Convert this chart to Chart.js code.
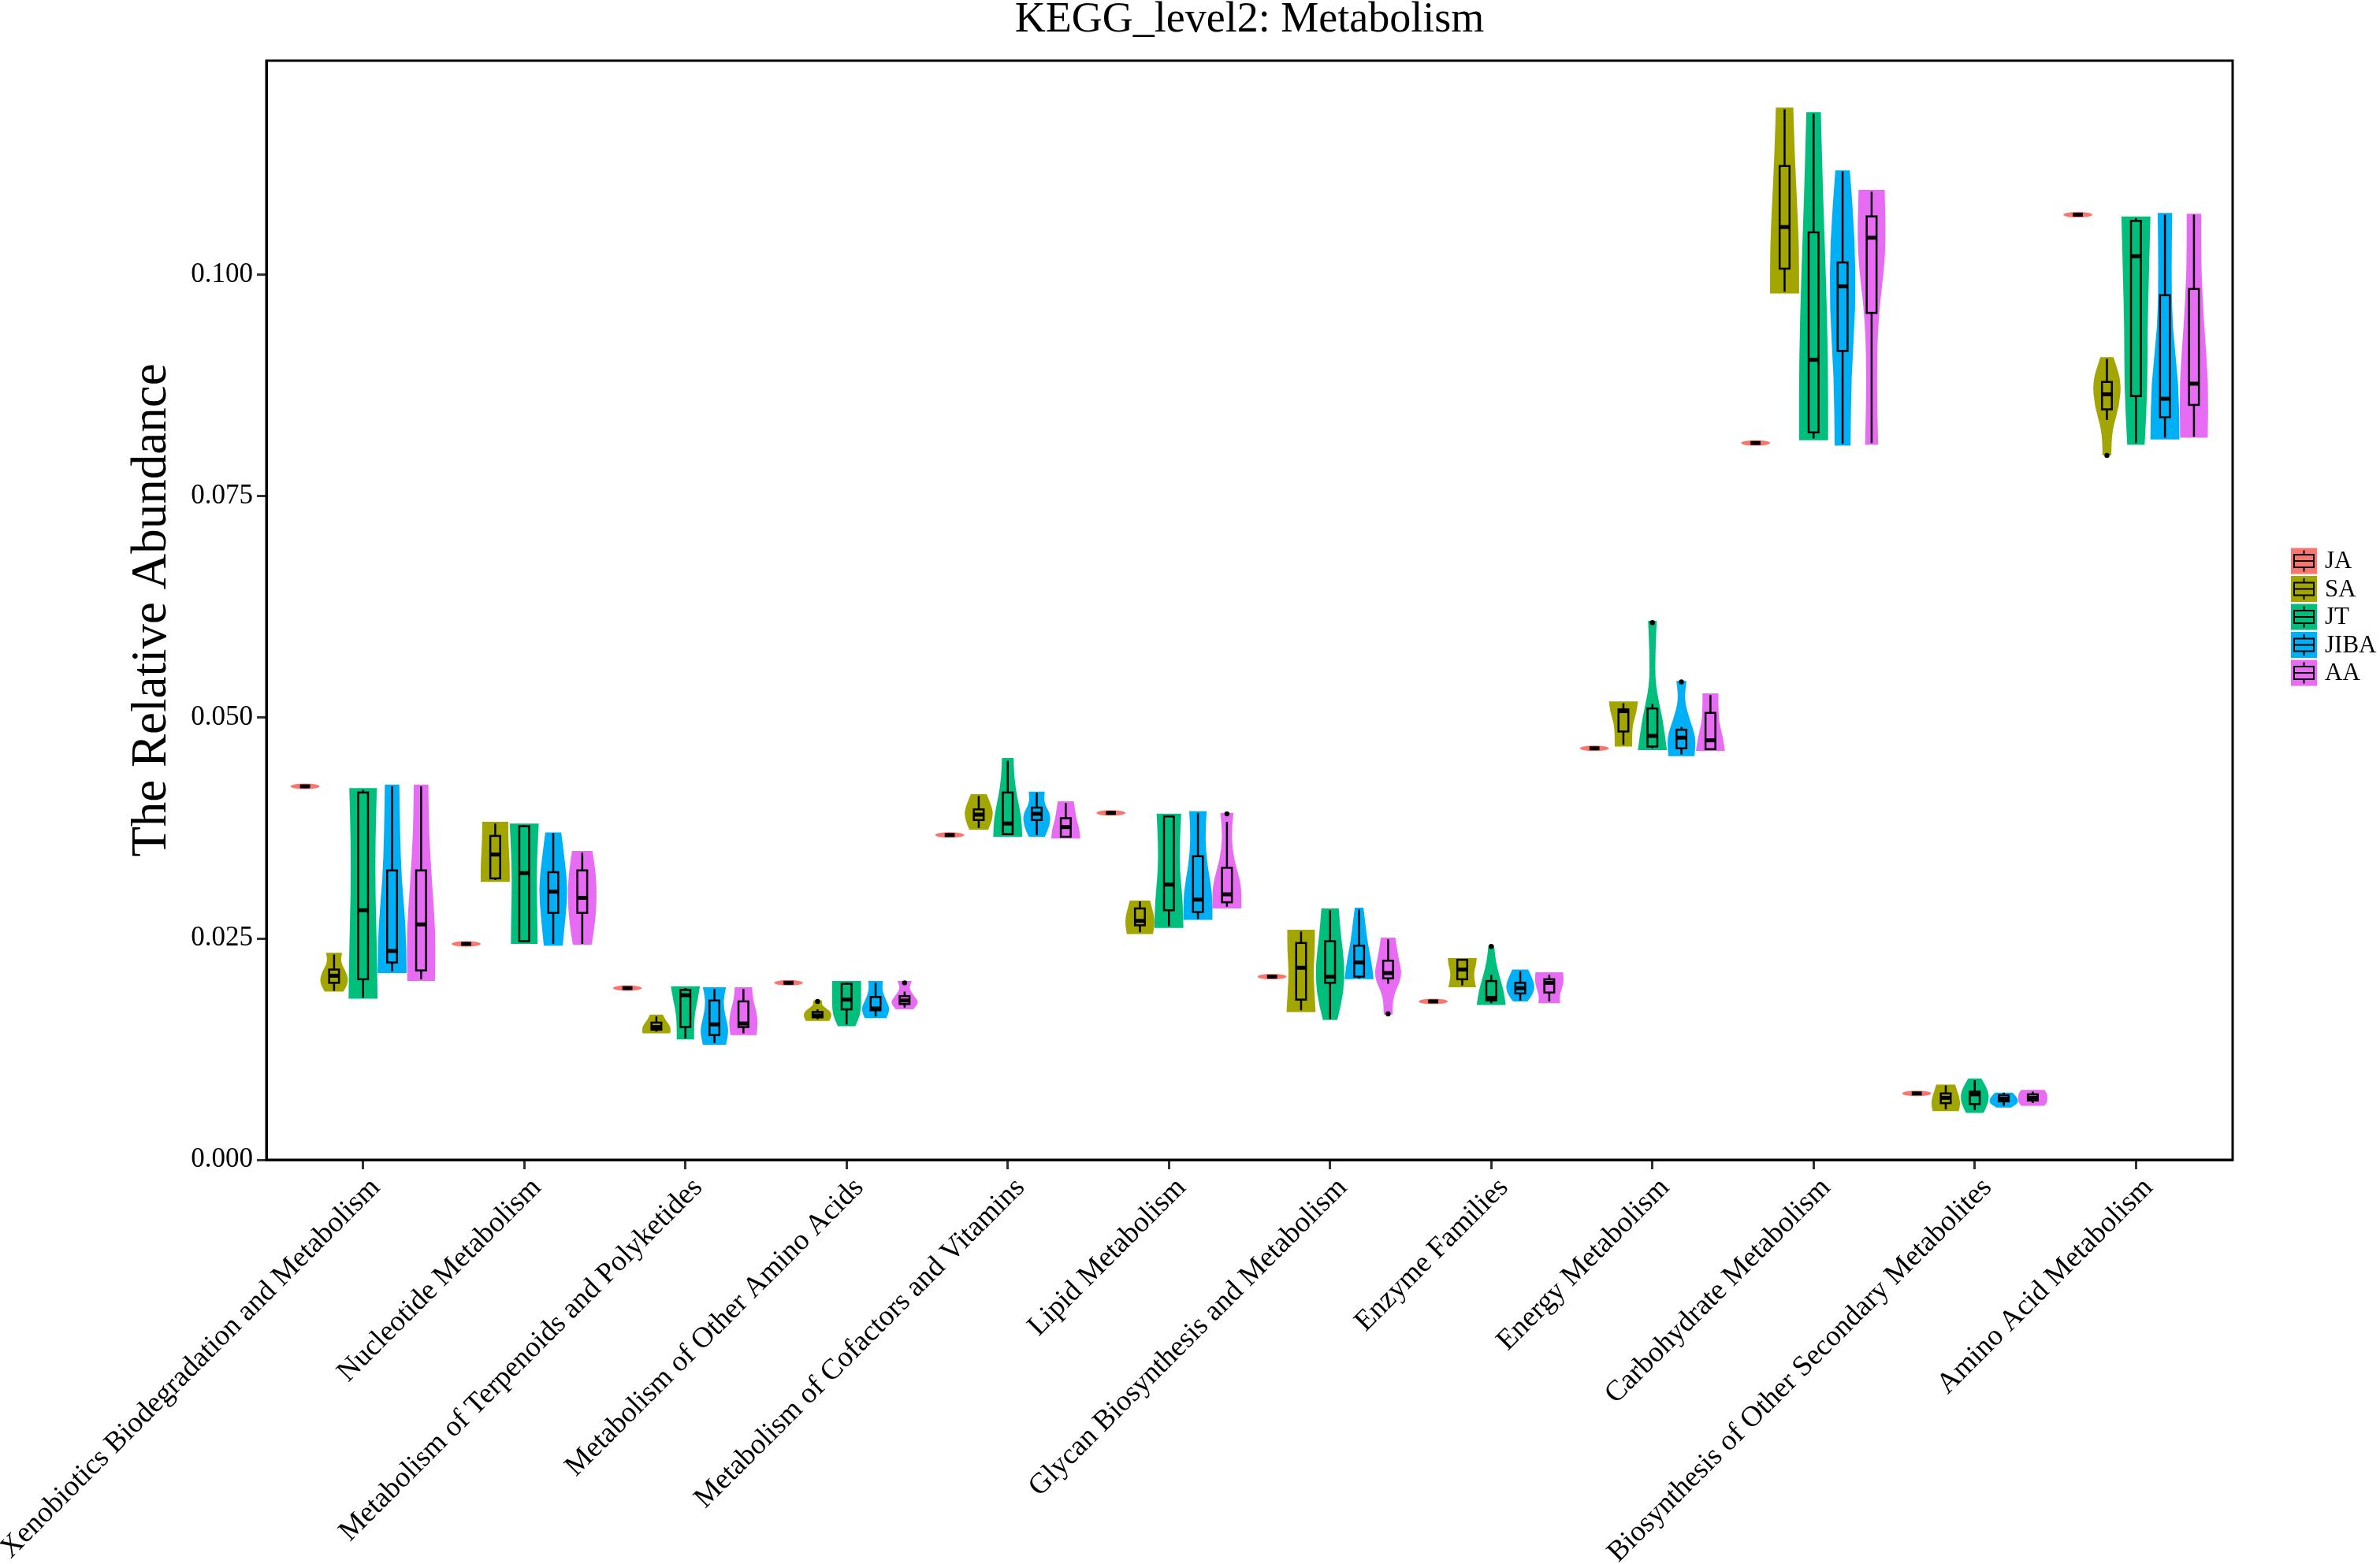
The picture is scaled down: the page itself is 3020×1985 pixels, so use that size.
<!DOCTYPE html>
<html>
<head>
<meta charset="utf-8">
<title>KEGG_level2: Metabolism</title>
<script src="https://cdn.jsdelivr.net/npm/chart.js@4.4.1/dist/chart.umd.min.js"></script>
<style>
  html, body { margin: 0; padding: 0; background: #fff; }
  #chart { display: block; }
</style>
</head>
<body>
<canvas id="chart" width="3020" height="1985"></canvas>
<script>
var categories = [
	'Xenobiotics Biodegradation and Metabolism',
	'Nucleotide Metabolism',
	'Metabolism of Terpenoids and Polyketides',
	'Metabolism of Other Amino Acids',
	'Metabolism of Cofactors and Vitamins',
	'Lipid Metabolism',
	'Glycan Biosynthesis and Metabolism',
	'Enzyme Families',
	'Energy Metabolism',
	'Carbohydrate Metabolism',
	'Biosynthesis of Other Secondary Metabolites',
	'Amino Acid Metabolism'
];
var groups = ['JA', 'SA', 'JT', 'JIBA', 'AA'];
var groupColors = ['#F8766D', '#A3A500', '#00BF7D', '#00B0F6', '#E76BF3'];
var yTicks = [0, 0.025, 0.05, 0.075, 0.1];

// JA: every sample has the same value
var jaValue = [0.0422, 0.0244, 0.0194, 0.0200, 0.0367, 0.0392, 0.0207, 0.0179, 0.0465, 0.0810, 0.0075, 0.1068];

// violin extent [min, max], box [lower whisker, q1, median, q3, upper whisker],
// shape = relative density from bottom to top of the violin
var saRange = [[0.0190,0.0234],[0.0314,0.0382],[0.0143,0.0164],[0.0157,0.0180],[0.0373,0.0413],[0.0255,0.0293],[0.0167,0.0260],[0.0195,0.0228],[0.0467,0.0518],[0.0979,0.1189],[0.0055,0.0085],[0.0796,0.0907]];
var saBox = [[0.0191,0.0200,0.0208,0.0215,0.0232],[0.0316,0.0318,0.0345,0.0366,0.0380],[0.0145,0.0147,0.0150,0.0155,0.0162],[0.0159,0.0161,0.0163,0.0167,0.0170],[0.0375,0.0384,0.0390,0.0396,0.0411],[0.0257,0.0265,0.0270,0.0284,0.0292],[0.0169,0.0181,0.0217,0.0245,0.0258],[0.0197,0.0204,0.0215,0.0226,0.0227],[0.0469,0.0484,0.0507,0.0509,0.0516],[0.0981,0.1007,0.1054,0.1123,0.1187],[0.0057,0.0064,0.0070,0.0075,0.0084],[0.0836,0.0848,0.0865,0.0879,0.0905]];
var saShape = [[0.65,1.0,0.85,0.45,0.55],[1.0,1.0,0.95,0.9,0.9],[0.95,1.0,0.85,0.6,0.45],[0.8,1.0,0.85,0.3,0.3],[0.65,0.9,1.0,0.8,0.55],[0.9,1.0,1.0,0.85,0.7],[1.0,0.92,0.85,0.95,0.95],[0.95,0.85,0.8,0.95,1.0],[0.6,0.6,0.65,0.9,1.0],[1.0,1.0,0.85,0.7,0.6],[0.9,1.0,0.95,0.8,0.65],[0.3,0.35,0.85,1.0,0.45]];

var jtRange = [[0.0182,0.0420],[0.0244,0.0380],[0.0136,0.0196],[0.0151,0.0202],[0.0365,0.0454],[0.0262,0.0391],[0.0158,0.0284],[0.0175,0.0242],[0.0463,0.0609],[0.0813,0.1184],[0.0053,0.0092],[0.0808,0.1066]];
var jtBox = [[0.0183,0.0204,0.0282,0.0415,0.0418],[0.0246,0.0247,0.0324,0.0377,0.0378],[0.0137,0.0150,0.0186,0.0192,0.0194],[0.0153,0.0170,0.0181,0.0199,0.0200],[0.0367,0.0368,0.0380,0.0415,0.0451],[0.0264,0.0282,0.0311,0.0388,0.0389],[0.0159,0.0200,0.0207,0.0247,0.0282],[0.0177,0.0180,0.0183,0.0202,0.0209],[0.0465,0.0467,0.0479,0.0510,0.0515],[0.0815,0.0822,0.0904,0.1048,0.1182],[0.0056,0.0063,0.0074,0.0077,0.0090],[0.0810,0.0863,0.1021,0.1061,0.1064]];
var jtShape = [[1.0,0.95,0.85,0.85,0.95],[0.92,0.9,0.85,0.9,1.0],[0.6,0.6,0.65,0.85,1.0],[0.6,0.95,1.0,1.0,1.0],[1.0,0.95,0.65,0.45,0.4],[1.0,0.95,0.75,0.75,0.85],[0.5,0.95,1.0,0.75,0.6],[1.0,0.85,0.55,0.3,0.2],[1.0,0.7,0.2,0.2,0.3],[1.0,1.0,0.85,0.65,0.5],[0.6,0.9,1.0,0.8,0.45],[0.6,0.8,0.8,0.9,1.0]];

var jibaRange = [[0.0211,0.0424],[0.0242,0.0370],[0.0130,0.0195],[0.0160,0.0202],[0.0365,0.0416],[0.0271,0.0394],[0.0204,0.0285],[0.0179,0.0215],[0.0456,0.0541],[0.0807,0.1118],[0.0059,0.0076],[0.0814,0.1070]];
var jibaBox = [[0.0213,0.0223,0.0236,0.0327,0.0422],[0.0244,0.0279,0.0303,0.0325,0.0369],[0.0132,0.0141,0.0153,0.0180,0.0193],[0.0162,0.0169,0.0171,0.0184,0.0200],[0.0367,0.0384,0.0391,0.0398,0.0415],[0.0272,0.0280,0.0294,0.0343,0.0392],[0.0205,0.0207,0.0223,0.0242,0.0283],[0.0180,0.0188,0.0194,0.0200,0.0213],[0.0458,0.0465,0.0477,0.0486,0.0489],[0.0809,0.0914,0.0987,0.1014,0.1117],[0.0061,0.0066,0.0069,0.0073,0.0076],[0.0816,0.0839,0.0860,0.0977,0.1068]];
var jibaShape = [[1.0,0.95,0.65,0.55,0.5],[0.65,0.85,1.0,0.8,0.55],[0.8,1.0,0.75,0.6,0.8],[0.75,1.0,0.7,0.45,0.5],[0.55,0.9,0.95,0.5,0.55],[1.0,1.0,0.65,0.5,0.6],[1.0,0.85,0.6,0.45,0.3],[0.5,0.9,1.0,0.8,0.55],[0.9,1.0,0.55,0.2,0.35],[0.55,0.6,0.9,0.85,0.5],[0.5,0.95,1.0,0.85,0.6],[1.0,0.95,0.5,0.45,0.5]];

var aaRange = [[0.0202,0.0424],[0.0243,0.0349],[0.0141,0.0195],[0.0170,0.0202],[0.0363,0.0405],[0.0284,0.0392],[0.0164,0.0251],[0.0177,0.0212],[0.0462,0.0527],[0.0808,0.1096],[0.0061,0.0079],[0.0816,0.1069]];
var aaBox = [[0.0204,0.0214,0.0266,0.0327,0.0422],[0.0244,0.0279,0.0296,0.0327,0.0347],[0.0143,0.0150,0.0154,0.0179,0.0193],[0.0172,0.0176,0.0180,0.0185,0.0190],[0.0365,0.0365,0.0376,0.0386,0.0403],[0.0286,0.0291,0.0300,0.0330,0.0382],[0.0199,0.0205,0.0211,0.0225,0.0249],[0.0179,0.0189,0.0200,0.0204,0.0209],[0.0463,0.0464,0.0474,0.0505,0.0525],[0.0810,0.0957,0.1042,0.1066,0.1094],[0.0064,0.0067,0.0070,0.0074,0.0077],[0.0817,0.0853,0.0877,0.0984,0.1068]];
var aaShape = [[0.95,1.0,0.75,0.55,0.5],[0.65,0.9,1.0,0.95,0.7],[0.9,1.0,0.9,0.65,0.6],[0.6,1.0,0.6,0.3,0.5],[1.0,0.95,0.75,0.65,0.55],[1.0,1.0,0.5,0.3,0.45],[0.3,0.35,1.0,0.7,0.5],[0.75,0.7,0.9,1.0,0.95],[1.0,0.85,0.6,0.55,0.55],[0.45,0.35,0.45,1.0,0.9],[0.8,1.0,1.0,1.0,0.8],[0.95,1.0,0.7,0.5,0.5]];

// outliers: [category index, group index, value]
var outliers = [[3,1,0.0179],[3,4,0.0200],[5,4,0.0391],[6,4,0.0165],[7,2,0.0241],[8,2,0.0607],[8,3,0.0540],[11,1,0.0796]];

var dodge = 0.18; // width of one group slot, in category units

var violinTable = [
	null,
	[saRange, saBox, saShape],
	[jtRange, jtBox, jtShape],
	[jibaRange, jibaBox, jibaShape],
	[aaRange, aaBox, aaShape]
];

function groupX(ci, gi) {
	return ci + 1 + (gi - 2) * dodge;
}

var outlierPoints = outliers.map(function (o) {
	return { x: groupX(o[0], o[1]), y: o[2] };
});

function violinPath(ctx, cx, half, yb, yt, shape) {
	var n = shape.length;
	var p = shape.map(function (d, i) {
		return [half * d, yb + (yt - yb) * i / (n - 1)];
	});
	function mid(a, b) { return [(p[a][0] + p[b][0]) / 2, (p[a][1] + p[b][1]) / 2]; }
	ctx.beginPath();
	ctx.moveTo(cx + p[0][0], p[0][1]);
	var m = mid(0, 1);
	ctx.lineTo(cx + m[0], m[1]);
	for (var i = 1; i < n - 1; i++) {
		m = mid(i, i + 1);
		ctx.quadraticCurveTo(cx + p[i][0], p[i][1], cx + m[0], m[1]);
	}
	ctx.lineTo(cx + p[n - 1][0], p[n - 1][1]);
	ctx.lineTo(cx - p[n - 1][0], p[n - 1][1]);
	m = mid(n - 2, n - 1);
	ctx.lineTo(cx - m[0], m[1]);
	for (var j = n - 2; j > 0; j--) {
		m = mid(j - 1, j);
		ctx.quadraticCurveTo(cx - p[j][0], p[j][1], cx - m[0], m[1]);
	}
	ctx.lineTo(cx - p[0][0], p[0][1]);
	ctx.closePath();
}

function drawBox(ctx, cx, bw, ys, box) {
	var lo = ys.getPixelForValue(box[0]);
	var q1 = ys.getPixelForValue(box[1]);
	var md = ys.getPixelForValue(box[2]);
	var q3 = ys.getPixelForValue(box[3]);
	var hi = ys.getPixelForValue(box[4]);
	ctx.strokeStyle = '#000';
	ctx.lineWidth = 2.5;
	ctx.beginPath();
	ctx.moveTo(cx, hi); ctx.lineTo(cx, q3);
	ctx.moveTo(cx, q1); ctx.lineTo(cx, lo);
	ctx.stroke();
	ctx.strokeRect(cx - bw, q3, 2 * bw, q1 - q3);
	ctx.lineWidth = 5;
	ctx.beginPath();
	ctx.moveTo(cx - bw, md); ctx.lineTo(cx + bw, md);
	ctx.stroke();
}

var violinPlugin = {
	id: 'violins',
	beforeDatasetsDraw: function (chart) {
		var ctx = chart.ctx, xs = chart.scales.x, ys = chart.scales.y, a = chart.chartArea;
		var half = (xs.getPixelForValue(1 + dodge) - xs.getPixelForValue(1)) / 2;
		var bw = half * 0.34;
		ctx.save();
		ctx.beginPath();
		ctx.rect(a.left, a.top, a.right - a.left, a.bottom - a.top);
		ctx.clip();
		categories.forEach(function (c, ci) {
			// JA: flat violin
			var cx = xs.getPixelForValue(groupX(ci, 0));
			var y = ys.getPixelForValue(jaValue[ci]);
			ctx.fillStyle = groupColors[0];
			ctx.beginPath();
			ctx.ellipse(cx, y, half, 3.5, 0, 0, Math.PI * 2);
			ctx.fill();
			var v = jaValue[ci];
			drawBox(ctx, cx, bw, ys, [v, v, v, v, v]);

			for (var gi = 1; gi < groups.length; gi++) {
				var t = violinTable[gi];
				var range = t[0][ci], box = t[1][ci], shape = t[2][ci];
				cx = xs.getPixelForValue(groupX(ci, gi));
				ctx.fillStyle = groupColors[gi];
				violinPath(ctx, cx, half, ys.getPixelForValue(range[0]), ys.getPixelForValue(range[1]), shape);
				ctx.fill();
				drawBox(ctx, cx, bw, ys, box);
			}
		});
		ctx.restore();
	},
	afterDraw: function (chart) {
		var ctx = chart.ctx, a = chart.chartArea;
		ctx.save();
		// panel frame
		ctx.strokeStyle = '#000';
		ctx.lineWidth = 3;
		ctx.strokeRect(a.left, a.top, a.right - a.left, a.bottom - a.top);

		// title
		ctx.fillStyle = '#000';
		ctx.font = '54px "Liberation Serif"';
		ctx.textAlign = 'center';
		ctx.textBaseline = 'middle';
		ctx.fillText('KEGG_level2: Metabolism', (a.left + a.right) / 2, 26);

		// legend
		var kx = a.right + 74, ky = 712, step = 35.5, ks = 33;
		ctx.font = '31px "Liberation Serif"';
		ctx.textAlign = 'left';
		groups.forEach(function (g, gi) {
			var cy = ky + gi * step;
			ctx.fillStyle = groupColors[gi];
			ctx.fillRect(kx, cy - ks / 2, ks, ks);
			ctx.strokeStyle = '#000';
			ctx.lineWidth = 2;
			ctx.beginPath();
			ctx.moveTo(kx + ks / 2, cy - ks / 2 + 3); ctx.lineTo(kx + ks / 2, cy - 8);
			ctx.moveTo(kx + ks / 2, cy + 8); ctx.lineTo(kx + ks / 2, cy + ks / 2 - 3);
			ctx.stroke();
			ctx.strokeRect(kx + 4, cy - 8, ks - 8, 16);
			ctx.beginPath();
			ctx.moveTo(kx + 4, cy); ctx.lineTo(kx + ks - 4, cy);
			ctx.stroke();
			ctx.fillStyle = '#000';
			ctx.fillText(g, kx + ks + 10, cy + 1);
		});
		ctx.restore();
	}
};

var axisGrid = { drawOnChartArea: false, drawTicks: true, tickLength: 12, tickWidth: 3, tickColor: '#333' };
var axisBorder = { display: true, color: '#000', width: 3 };

var chart = new Chart(document.getElementById('chart'), {
	type: 'scatter',
	data: {
		datasets: [{
			label: 'outliers',
			data: outlierPoints,
			pointRadius: 3.2,
			pointBackgroundColor: '#000',
			pointBorderWidth: 0
		}]
	},
	options: {
		responsive: false,
		animation: false,
		devicePixelRatio: 1,
		layout: { padding: { top: 77, right: 187, bottom: 0, left: 0 } },
		plugins: {
			legend: { display: false },
			tooltip: { enabled: false },
			title: { display: false }
		},
		scales: {
			x: {
				type: 'linear',
				min: 0.4,
				max: 12.6,
				afterBuildTicks: function (s) {
					s.ticks = categories.map(function (c, i) { return { value: i + 1 }; });
				},
				afterFit: function (s) {
					s.height = 513;
					s.paddingLeft = 0;
					s.paddingRight = 0;
				},
				ticks: {
					autoSkip: false,
					minRotation: 45,
					maxRotation: 45,
					padding: 2,
					labelOffset: 16,
					color: '#000',
					font: { family: 'Liberation Serif', size: 37 },
					callback: function (v) { return categories[Math.round(v) - 1]; }
				},
				grid: axisGrid,
				border: axisBorder
			},
			y: {
				min: 0,
				max: 0.1242,
				afterBuildTicks: function (s) {
					s.ticks = yTicks.map(function (v) { return { value: v }; });
				},
				afterFit: function (s) {
					s.width = 338;
					s.paddingTop = 0;
					s.paddingBottom = 0;
				},
				ticks: {
					padding: 5,
					color: '#000',
					font: { family: 'Liberation Serif', size: 35 },
					callback: function (v) { return v.toFixed(3); }
				},
				grid: axisGrid,
				border: axisBorder,
				title: {
					display: true,
					text: 'The Relative Abundance',
					color: '#000',
					font: { family: 'Liberation Serif', size: 63 },
					padding: { top: 156, bottom: 0 }
				}
			}
		}
	},
	plugins: [violinPlugin]
});
</script>
</body>
</html>
